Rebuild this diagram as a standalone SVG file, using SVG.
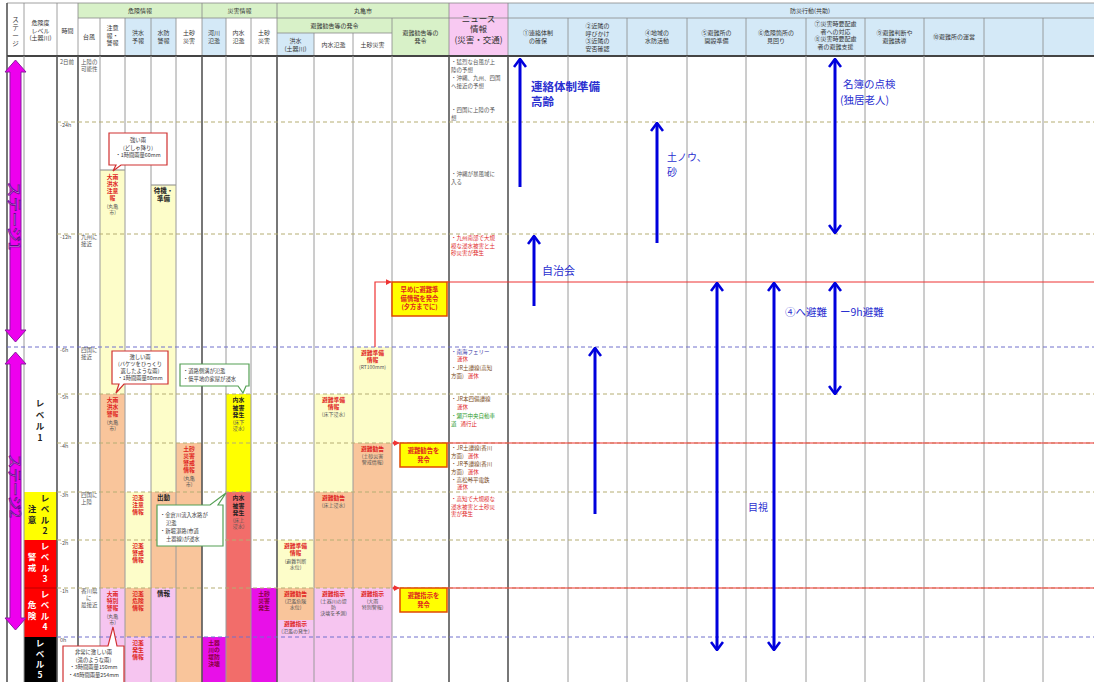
<svg xmlns="http://www.w3.org/2000/svg" width="1094" height="682" viewBox="0 0 1094 682">
<defs>
<style>
text { font-family: "Noto Sans CJK JP", "Noto Sans CJK SC", sans-serif; }
.h { font-size: 6px; fill: #333; text-anchor: middle; }
.hg { font-size: 6.5px; fill: #333; text-anchor: middle; }
.hn { font-size: 8.5px; fill: #333; text-anchor: middle; }
.t { font-size: 5.5px; fill: #555; }
.r { font-size: 5.8px; fill: #e0261f; font-weight: bold; text-anchor: middle; }
.s { font-size: 5px; fill: #555; text-anchor: middle; }
.k { font-size: 6.5px; fill: #222; font-weight: bold; text-anchor: middle; }
.ki { font-size: 5.9px; fill: #222; font-weight: bold; text-anchor: middle; }
.dk { font-size: 5.8px; fill: #8a0040; font-weight: bold; text-anchor: middle; }
.n { font-size: 5.5px; fill: #7a4a22; }
.nr { font-size: 5.5px; fill: #e0261f; }
.nb { font-size: 5.5px; fill: #3a3aa8; }
.ng { font-size: 5.5px; fill: #2a9a2a; }
.co { font-size: 5.3px; fill: #333; text-anchor: middle; }
.cg { font-size: 5.3px; fill: #333; }
.bx { font-size: 6.3px; fill: #e0261f; font-weight: bold; text-anchor: middle; }
.lv { font-size: 8.5px; font-weight: bold; text-anchor: middle; }
.bl { fill: #2a2fd0; }
.vl { stroke: #9a9a9a; stroke-width: 1; }
.vd { stroke: #555; stroke-width: 1.6; }
.hl { stroke: #888; stroke-width: 0.8; }
.dash { stroke: #b5ad72; stroke-width: 1; stroke-dasharray: 4 3; }
.bdash { stroke: #7070cc; stroke-width: 1; stroke-dasharray: 4 3; }
.red { stroke: #ee3333; stroke-width: 1.2; fill: none; }
.arr { stroke: #0000dd; stroke-width: 3; fill: none; }
.py { fill: #fdfdc9; }
.pe { fill: #f9c59b; }
.pk { fill: #f6c5f0; }
.mg { fill: #e810e8; }
.ye { fill: #ffff00; }
.sa { fill: #f26d6a; }
.gr { fill: #d8f1c8; }
.lb { fill: #d4e9f7; }
.pkh { fill: #f8c9f2; }
.cr { fill: #fff; stroke: #d03030; stroke-width: 1.2; }
.cgn { fill: #fff; stroke: #55a055; stroke-width: 1.2; }
.ybox { fill: #ffff00; stroke: #e04a00; stroke-width: 1.5; }
.stg { fill: #fbb8fb; stroke: #6a0090; stroke-width: 0.8; }
</style>
<marker id="chev" viewBox="0 0 10 14" refX="9" refY="7" markerWidth="10" markerHeight="14" orient="auto-start-reverse" markerUnits="userSpaceOnUse">
<path d="M1,1 L9,7 L1,13" fill="none" stroke="#0000dd" stroke-width="2.6"/>
</marker>
<marker id="redhead" viewBox="0 0 8 8" refX="7" refY="4" markerWidth="6" markerHeight="6" orient="auto" markerUnits="userSpaceOnUse">
<path d="M0,0 L8,4 L0,8 Z" fill="#ee3333"/>
</marker>
</defs>

<rect x="0" y="0" width="1094" height="682" fill="#fff"/>

<!-- header -->
<g id="header">
<rect x="78" y="3" width="124" height="15" class="gr"/>
<rect x="125" y="18" width="51" height="38" class="lb"/>
<rect x="202" y="3" width="75" height="15" class="gr"/>
<rect x="202" y="18" width="24" height="38" class="lb"/>
<rect x="277" y="3" width="172" height="15" class="gr"/>
<rect x="277" y="18" width="115" height="15" class="gr"/>
<rect x="277" y="33" width="37" height="23" class="lb"/>
<rect x="392" y="18" width="57" height="38" class="gr"/>
<rect x="449" y="3" width="59" height="53" class="pkh"/>
<rect x="508" y="3" width="586" height="53" class="lb"/>
<g class="hl">
<line x1="7" y1="3" x2="1094" y2="3"/>
<line x1="78" y1="18" x2="1094" y2="18"/>
<line x1="277" y1="33" x2="392" y2="33"/>
<line x1="24" y1="3" x2="24" y2="56"/>
<line x1="57" y1="3" x2="57" y2="56"/>
<line x1="78" y1="3" x2="78" y2="56"/>
<line x1="100" y1="18" x2="100" y2="56"/>
<line x1="125" y1="18" x2="125" y2="56"/>
<line x1="151" y1="18" x2="151" y2="56"/>
<line x1="176" y1="18" x2="176" y2="56"/>
<line x1="202" y1="3" x2="202" y2="56"/>
<line x1="226" y1="18" x2="226" y2="56"/>
<line x1="251" y1="18" x2="251" y2="56"/>
<line x1="277" y1="3" x2="277" y2="56"/>
<line x1="314" y1="33" x2="314" y2="56"/>
<line x1="353" y1="33" x2="353" y2="56"/>
<line x1="392" y1="18" x2="392" y2="56"/>
<line x1="449" y1="3" x2="449" y2="56"/>
<line x1="508" y1="3" x2="508" y2="56"/>
<line x1="568" y1="18" x2="568" y2="56"/>
<line x1="627" y1="18" x2="627" y2="56"/>
<line x1="687" y1="18" x2="687" y2="56"/>
<line x1="746" y1="18" x2="746" y2="56"/>
<line x1="806" y1="18" x2="806" y2="56"/>
<line x1="865" y1="18" x2="865" y2="56"/>
<line x1="924" y1="18" x2="924" y2="56"/>
<line x1="984" y1="18" x2="984" y2="56"/>
<line x1="1043" y1="18" x2="1043" y2="56"/>
</g>
<line x1="7" y1="3" x2="7" y2="56" class="vd"/>
<line x1="7" y1="56" x2="1094" y2="56" stroke="#444" stroke-width="1.8"/>

<text class="hg" x="15.5" y="22"><tspan x="15.5">ス</tspan><tspan x="15.5" dy="8">テ</tspan><tspan x="15.5" dy="8">ー</tspan><tspan x="15.5" dy="8">ジ</tspan></text>
<text class="h" x="40.5" y="25"><tspan x="40.5">危険度</tspan><tspan x="40.5" dy="7.5">レベル</tspan><tspan x="40.5" dy="7.5">(土器川)</tspan></text>
<text class="h" x="67.5" y="33">時間</text>
<text class="h" x="140" y="13">危険情報</text>
<text class="h" x="89" y="39">台風</text>
<text class="h" x="112.5" y="30"><tspan x="112.5">注意</tspan><tspan x="112.5" dy="7.5">報・</tspan><tspan x="112.5" dy="7.5">警報</tspan></text>
<text class="h" x="138" y="35"><tspan x="138">洪水</tspan><tspan x="138" dy="7.5">予報</tspan></text>
<text class="h" x="163.5" y="35"><tspan x="163.5">水防</tspan><tspan x="163.5" dy="7.5">警報</tspan></text>
<text class="h" x="189" y="35"><tspan x="189">土砂</tspan><tspan x="189" dy="7.5">災害</tspan></text>
<text class="h" x="239.5" y="13">災害情報</text>
<text class="h" x="214" y="35"><tspan x="214">河川</tspan><tspan x="214" dy="7.5">氾濫</tspan></text>
<text class="h" x="238.5" y="35"><tspan x="238.5">内水</tspan><tspan x="238.5" dy="7.5">氾濫</tspan></text>
<text class="h" x="264" y="35"><tspan x="264">土砂</tspan><tspan x="264" dy="7.5">災害</tspan></text>
<text class="h" x="363" y="13">丸亀市</text>
<text class="h" x="334.5" y="28">避難勧告等の発令</text>
<text class="h" x="295.5" y="43"><tspan x="295.5">洪水</tspan><tspan x="295.5" dy="7.5">(土器川)</tspan></text>
<text class="h" x="333.5" y="47">内水氾濫</text>
<text class="h" x="372.5" y="47">土砂災害</text>
<text class="h" x="420.5" y="35"><tspan x="420.5">避難勧告等の</tspan><tspan x="420.5" dy="7.5">発令</tspan></text>
<text class="hn" x="478.5" y="22"><tspan x="478.5">ニュース</tspan><tspan x="478.5" dy="10">情報</tspan><tspan x="478.5" dy="10.5">(災害・交通)</tspan></text>
<text class="h" x="810" y="13">防災行動(共助)</text>
<text class="h" x="538" y="35"><tspan x="538">①連絡体制</tspan><tspan x="538" dy="7.5">の確保</tspan></text>
<text class="h" x="597.5" y="28"><tspan x="597.5">②近隣の</tspan><tspan x="597.5" dy="7.5">呼びかけ</tspan><tspan x="597.5" dy="7.5">③近隣の</tspan><tspan x="597.5" dy="7.5">安否確認</tspan></text>
<text class="h" x="657" y="35"><tspan x="657">④地域の</tspan><tspan x="657" dy="7.5">水防活動</tspan></text>
<text class="h" x="716.5" y="35"><tspan x="716.5">⑤避難所の</tspan><tspan x="716.5" dy="7.5">開設準備</tspan></text>
<text class="h" x="776" y="35"><tspan x="776">⑥危険箇所の</tspan><tspan x="776" dy="7.5">見回り</tspan></text>
<text class="h" x="835.5" y="26"><tspan x="835.5">⑦災害時要配慮</tspan><tspan x="835.5" dy="7.5">者への対応</tspan><tspan x="835.5" dy="7.5">⑧災害時要配慮</tspan><tspan x="835.5" dy="7.5">者の避難支援</tspan></text>
<text class="h" x="894.5" y="35"><tspan x="894.5">⑨避難判断や</tspan><tspan x="894.5" dy="7.5">避難誘導</tspan></text>
<text class="h" x="954" y="39">⑩避難所の運営</text>
</g>

<!-- colour bands in the body -->
<g id="bands">
<rect x="100" y="170" width="25" height="224" class="py"/>
<rect x="100" y="394" width="25" height="194" class="pe"/>
<rect x="100" y="588" width="25" height="94" class="pk"/>
<rect x="125" y="492" width="26" height="96" class="py"/>
<rect x="125" y="588" width="26" height="49" class="pe"/>
<rect x="125" y="637" width="26" height="45" class="pk"/>
<rect x="151" y="185" width="25" height="307" class="py"/>
<rect x="151" y="492" width="25" height="96" class="pe"/>
<rect x="151" y="588" width="25" height="94" class="pk"/>
<rect x="176" y="443" width="26" height="239" class="pe"/>
<rect x="202" y="637" width="24" height="45" class="mg"/>
<rect x="226" y="394" width="25" height="98" class="ye"/>
<rect x="226" y="492" width="25" height="190" class="sa"/>
<rect x="251" y="588" width="26" height="94" class="mg"/>
<rect x="277" y="540" width="37" height="48" class="py"/>
<rect x="277" y="588" width="37" height="32" class="pe"/>
<rect x="277" y="620" width="37" height="62" class="pk"/>
<rect x="314" y="394" width="39" height="98" class="py"/>
<rect x="314" y="492" width="39" height="96" class="pe"/>
<rect x="314" y="588" width="39" height="94" class="pk"/>
<rect x="353" y="347" width="39" height="96" class="py"/>
<rect x="353" y="443" width="39" height="145" class="pe"/>
<rect x="353" y="588" width="39" height="94" class="pk"/>
<line x1="100" y1="170" x2="125" y2="170" stroke="#888" stroke-width="1"/>
<line x1="151" y1="185" x2="176" y2="185" stroke="#888" stroke-width="1"/>
<!-- danger level cells -->
<rect x="24" y="492" width="33" height="48" fill="#ffff00"/>
<rect x="24" y="540" width="33" height="97" fill="#ff0000"/>
<rect x="24" y="637" width="33" height="45" fill="#000"/>
<line x1="24" y1="588" x2="57" y2="588" stroke="#b00" stroke-width="1"/>
</g>

<!-- grid -->
<g id="grid">
<line x1="24" y1="56" x2="24" y2="682" class="vl"/>
<line x1="100" y1="56" x2="100" y2="682" class="vl"/>
<line x1="125" y1="56" x2="125" y2="682" class="vl"/>
<line x1="151" y1="56" x2="151" y2="682" class="vl"/>
<line x1="176" y1="56" x2="176" y2="682" class="vl"/>
<line x1="226" y1="56" x2="226" y2="682" class="vl"/>
<line x1="251" y1="56" x2="251" y2="682" class="vl"/>
<line x1="314" y1="56" x2="314" y2="682" class="vl"/>
<line x1="353" y1="56" x2="353" y2="682" class="vl"/>
<line x1="392" y1="56" x2="392" y2="682" class="vl"/>
<line x1="568" y1="56" x2="568" y2="682" class="vl"/>
<line x1="627" y1="56" x2="627" y2="682" class="vl"/>
<line x1="687" y1="56" x2="687" y2="682" class="vl"/>
<line x1="746" y1="56" x2="746" y2="682" class="vl"/>
<line x1="806" y1="56" x2="806" y2="682" class="vl"/>
<line x1="865" y1="56" x2="865" y2="682" class="vl"/>
<line x1="924" y1="56" x2="924" y2="682" class="vl"/>
<line x1="984" y1="56" x2="984" y2="682" class="vl"/>
<line x1="1043" y1="56" x2="1043" y2="682" class="vl"/>
<line x1="7" y1="56" x2="7" y2="682" class="vd"/>
<line x1="57" y1="56" x2="57" y2="682" class="vd"/>
<line x1="78" y1="56" x2="78" y2="682" class="vd"/>
<line x1="202" y1="56" x2="202" y2="682" class="vd"/>
<line x1="277" y1="56" x2="277" y2="682" class="vd"/>
<line x1="449" y1="56" x2="449" y2="682" class="vd"/>
<line x1="508" y1="56" x2="508" y2="682" class="vd"/>
<line x1="57" y1="122" x2="1094" y2="122" class="dash"/>
<line x1="57" y1="234" x2="1094" y2="234" class="dash"/>
<line x1="57" y1="394" x2="1094" y2="394" class="dash"/>
<line x1="57" y1="443" x2="1094" y2="443" class="dash"/>
<line x1="57" y1="492" x2="1094" y2="492" class="dash"/>
<line x1="57" y1="540" x2="1094" y2="540" class="dash"/>
<line x1="57" y1="588" x2="1094" y2="588" class="dash"/>
<line x1="7" y1="347" x2="1094" y2="347" class="bdash"/>
<line x1="57" y1="637" x2="1094" y2="637" class="bdash"/>
</g>

<!-- stage arrows -->
<g id="stage1">
<polygon points="15.5,60 26,72 21,72 21,330 26,330 15.5,342 5,330 10,330 10,72 5,72" fill="#ee00ee" stroke="#8a1aa0" stroke-width="1"/>
<text class="stg" transform="translate(15.5,216) rotate(90)" text-anchor="middle" dominant-baseline="central" font-size="15">ステージ1</text>
</g>
<g id="stage2">
<polygon points="15.5,352 26,364 21,364 21,618 26,618 15.5,630 5,618 10,618 10,364 5,364" fill="#ee00ee" stroke="#8a1aa0" stroke-width="1"/>
<text class="stg" transform="translate(15.5,486) rotate(90)" text-anchor="middle" dominant-baseline="central" font-size="14">ステージ2</text>
</g>

<!-- danger levels -->
<g id="levels">
<text class="lv" font-size="10" fill="#222" x="40" y="406"><tspan x="40">レ</tspan><tspan x="40" dy="11.5">ベ</tspan><tspan x="40" dy="11.5">ル</tspan><tspan x="40" dy="11.5">1</tspan></text>
<text class="lv" fill="#222" x="45" y="501"><tspan x="45">レ</tspan><tspan x="45" dy="11">ベ</tspan><tspan x="45" dy="11">ル</tspan><tspan x="45" dy="11">2</tspan></text>
<text class="lv" fill="#222" x="32" y="512"><tspan x="32">注</tspan><tspan x="32" dy="11">意</tspan></text>
<text class="lv" fill="#fff" x="45" y="549"><tspan x="45">レ</tspan><tspan x="45" dy="11">ベ</tspan><tspan x="45" dy="11">ル</tspan><tspan x="45" dy="11">3</tspan></text>
<text class="lv" fill="#fff" x="32" y="560"><tspan x="32">警</tspan><tspan x="32" dy="11">戒</tspan></text>
<text class="lv" fill="#fff" x="45" y="597"><tspan x="45">レ</tspan><tspan x="45" dy="11">ベ</tspan><tspan x="45" dy="11">ル</tspan><tspan x="45" dy="11">4</tspan></text>
<text class="lv" fill="#fff" x="32" y="608"><tspan x="32">危</tspan><tspan x="32" dy="11">険</tspan></text>
<text class="lv" fill="#fff" x="40" y="646"><tspan x="40">レ</tspan><tspan x="40" dy="10.5">ベ</tspan><tspan x="40" dy="10.5">ル</tspan><tspan x="40" dy="10.5">5</tspan></text>
</g>

<!-- time axis and typhoon -->
<g id="time">
<text class="t" x="60" y="64">2日前</text>
<text class="t" x="60" y="127">-24h</text>
<text class="t" x="60" y="239">-12h</text>
<text class="t" x="60" y="352">-6h</text>
<text class="t" x="60" y="399">-5h</text>
<text class="t" x="60" y="448">-4h</text>
<text class="t" x="60" y="497">-3h</text>
<text class="t" x="60" y="545">-2h</text>
<text class="t" x="60" y="593">-1h</text>
<text class="t" x="60" y="642">0h</text>
</g>
<g id="typhoon">
<text class="t" x="81" y="64"><tspan x="81">上陸の</tspan><tspan x="81" dy="7">可能性</tspan></text>
<text class="t" x="81" y="239"><tspan x="81">九州に</tspan><tspan x="81" dy="7">接近</tspan></text>
<text class="t" x="81" y="352"><tspan x="81">四国に</tspan><tspan x="81" dy="7">接近</tspan></text>
<text class="t" x="81" y="497"><tspan x="81">四国に</tspan><tspan x="81" dy="7">上陸</tspan></text>
<text class="t" x="81" y="593"><tspan x="81">香川県</tspan><tspan x="86" dy="7">に</tspan><tspan x="81" dy="7">最接近</tspan></text>
</g>

<!-- warnings -->
<g id="warnings">
<text class="r" x="112.5" y="179"><tspan x="112.5">大雨</tspan><tspan x="112.5" dy="7">洪水</tspan><tspan x="112.5" dy="7">注意</tspan><tspan x="112.5" dy="7">報</tspan></text>
<text class="s" x="112.5" y="208"><tspan x="112.5">(丸亀</tspan><tspan x="112.5" dy="6">市)</tspan></text>
<text class="r" x="112.5" y="402"><tspan x="112.5">大雨</tspan><tspan x="112.5" dy="7">洪水</tspan><tspan x="112.5" dy="7">警報</tspan></text>
<text class="s" x="112.5" y="424"><tspan x="112.5">(丸亀</tspan><tspan x="112.5" dy="6">市)</tspan></text>
<text class="r" x="112.5" y="596"><tspan x="112.5">大雨</tspan><tspan x="112.5" dy="7">特別</tspan><tspan x="112.5" dy="7">警報</tspan></text>
<text class="s" x="112.5" y="618"><tspan x="112.5">(丸亀</tspan><tspan x="112.5" dy="6">市)</tspan></text>
<text class="r" x="138" y="500"><tspan x="138">氾濫</tspan><tspan x="138" dy="7">注意</tspan><tspan x="138" dy="7">情報</tspan></text>
<text class="r" x="138" y="548"><tspan x="138">氾濫</tspan><tspan x="138" dy="7">警戒</tspan><tspan x="138" dy="7">情報</tspan></text>
<text class="r" x="138" y="596"><tspan x="138">氾濫</tspan><tspan x="138" dy="7">危険</tspan><tspan x="138" dy="7">情報</tspan></text>
<text class="r" x="138" y="645"><tspan x="138">氾濫</tspan><tspan x="138" dy="7">発生</tspan><tspan x="138" dy="7">情報</tspan></text>
<text class="k" x="163.5" y="193"><tspan x="163.5">待機・</tspan><tspan x="163.5" dy="8">準備</tspan></text>
<text class="k" x="163.5" y="500">出動</text>
<text class="k" x="163.5" y="596">情報</text>
<text class="r" x="189" y="451"><tspan x="189">土砂</tspan><tspan x="189" dy="7">災害</tspan><tspan x="189" dy="7">警戒</tspan><tspan x="189" dy="7">情報</tspan></text>
<text class="s" x="189" y="480"><tspan x="189">(丸亀</tspan><tspan x="189" dy="6">市)</tspan></text>
</g>

<!-- disaster information -->
<g id="disasters">
<text class="ki" x="238.5" y="402"><tspan x="238.5">内水</tspan><tspan x="238.5" dy="7.5">被害</tspan><tspan x="238.5" dy="7.5">発生</tspan></text>
<text class="s" x="238.5" y="424" fill="#333"><tspan x="238.5">(床下</tspan><tspan x="238.5" dy="6">浸水)</tspan></text>
<text class="ki" x="238.5" y="500"><tspan x="238.5">内水</tspan><tspan x="238.5" dy="7.5">被害</tspan><tspan x="238.5" dy="7.5">発生</tspan></text>
<text class="s" x="238.5" y="522" fill="#333"><tspan x="238.5">(床上</tspan><tspan x="238.5" dy="6">浸水)</tspan></text>
<text class="dk" x="214" y="645"><tspan x="214">土器</tspan><tspan x="214" dy="7">川の</tspan><tspan x="214" dy="7">堤防</tspan><tspan x="214" dy="7">決壊</tspan></text>
<text class="dk" x="264" y="596"><tspan x="264">土砂</tspan><tspan x="264" dy="7">災害</tspan><tspan x="264" dy="7">発生</tspan></text>
</g>

<!-- evacuation orders -->
<g id="evacuation">
<text class="r" x="295.5" y="548"><tspan x="295.5">避難準備</tspan><tspan x="295.5" dy="7">情報</tspan></text>
<text class="s" x="295.5" y="563"><tspan x="295.5">(避難判断</tspan><tspan x="295.5" dy="6">水位)</tspan></text>
<text class="r" x="295.5" y="596">避難勧告</text>
<text class="s" x="295.5" y="603"><tspan x="295.5">(氾濫危険</tspan><tspan x="295.5" dy="6">水位)</tspan></text>
<text class="r" x="295.5" y="626">避難指示</text>
<text class="s" x="295.5" y="633">(氾濫の発生)</text>
<text class="r" x="333.5" y="402"><tspan x="333.5">避難準備</tspan><tspan x="333.5" dy="7">情報</tspan></text>
<text class="s" x="333.5" y="416">(床下浸水)</text>
<text class="r" x="333.5" y="500">避難勧告</text>
<text class="s" x="333.5" y="507">(床上浸水)</text>
<text class="r" x="333.5" y="596">避難指示</text>
<text class="s" x="333.5" y="603"><tspan x="333.5">(土器川の堤</tspan><tspan x="333.5" dy="6">防</tspan><tspan x="333.5" dy="6">決壊を予測)</tspan></text>
<text class="r" x="372.5" y="355"><tspan x="372.5">避難準備</tspan><tspan x="372.5" dy="7">情報</tspan></text>
<text class="s" x="372.5" y="369">(RT100mm)</text>
<text class="r" x="372.5" y="451">避難勧告</text>
<text class="s" x="372.5" y="458"><tspan x="372.5">(土砂災害</tspan><tspan x="372.5" dy="6">警戒情報)</tspan></text>
<text class="r" x="372.5" y="596">避難指示</text>
<text class="s" x="372.5" y="603"><tspan x="372.5">(大雨</tspan><tspan x="372.5" dy="6">特別警報)</tspan></text>
</g>

<!-- rainfall callouts -->
<g id="rain60">
<path d="M109,133 H167 V165 H121 L113,171 L116,165 H109 Z" class="cr"/>
<text class="co" x="138" y="142"><tspan x="138">強い雨</tspan><tspan x="138" dy="7.5">(どしゃ降り)</tspan><tspan x="138" dy="7.5">・1時間雨量60mm</tspan></text>
</g>
<g id="rain80">
<path d="M112,351 H168 V384 H124 L116,393 L119,384 H112 Z" class="cr"/>
<text class="co" x="140" y="359"><tspan x="140">激しい雨</tspan><tspan x="140" dy="7">(バケツをひっくり</tspan><tspan x="140" dy="7">返したような雨)</tspan><tspan x="140" dy="7">・1時間雨量80mm</tspan></text>
</g>
<g id="rain150">
<path d="M63,646 H108 L113,627 L117,646 H124 V690 H63 Z" class="cr"/>
<text class="co" x="93.5" y="654"><tspan x="93.5">非常に激しい雨</tspan><tspan x="93.5" dy="7.5">(滝のような雨)</tspan><tspan x="93.5" dy="7.5">・3時間雨量150mm</tspan><tspan x="93.5" dy="7.5">・48時間雨量254mm</tspan></text>
</g>
<g id="inundation1">
<path d="M180,364 H249 V386 H246 L243,393 L238,386 H180 Z" class="cgn"/>
<text class="cg" x="183" y="373"><tspan x="183">・道路側溝が氾濫</tspan><tspan x="183" dy="8">・低平地の家屋が浸水</tspan></text>
</g>
<g id="inundation2">
<path d="M157,505 H210 L226,493 L218,505 H223 V546 H157 Z" class="cgn"/>
<text class="cg" x="160" y="517"><tspan x="160">・金倉川流入水路が</tspan><tspan x="166" dy="8">氾濫</tspan><tspan x="160" dy="8">・新堀湛路(市道</tspan><tspan x="166" dy="8">土器線)が浸水</tspan></text>
</g>

<!-- evacuation announcements -->
<g id="announce1">
<rect x="392" y="282" width="55" height="34" class="ybox"/>
<text class="bx" x="419.5" y="292"><tspan x="419.5">早めに避難準</tspan><tspan x="419.5" dy="8.5">備情報を発令</tspan><tspan x="419.5" dy="8.5">(夕方までに)</tspan></text>
</g>
<g id="announce2">
<rect x="400" y="443" width="47" height="24" class="ybox"/>
<text class="bx" x="423.5" y="453"><tspan x="423.5">避難勧告を</tspan><tspan x="423.5" dy="8.5">発令</tspan></text>
</g>
<g id="announce3">
<rect x="400" y="588" width="47" height="24" class="ybox"/>
<text class="bx" x="423.5" y="598"><tspan x="423.5">避難指示を</tspan><tspan x="423.5" dy="8.5">発令</tspan></text>
</g>

<!-- news -->
<g id="news">
<text class="t" fill="#444" x="451" y="64"><tspan x="451">・猛烈な台風が上</tspan><tspan x="451" dy="7.5">陸の予想</tspan><tspan x="451" dy="8.5">・沖縄、九州、四国</tspan><tspan x="451" dy="7.5">へ接近の予想</tspan></text>
<text class="t" fill="#444" x="451" y="112"><tspan x="451">・四国に上陸の予</tspan><tspan x="451" dy="7.5">想</tspan></text>
<text class="t" fill="#444" x="451" y="176"><tspan x="451">・沖縄が暴風域に</tspan><tspan x="451" dy="7.5">入る</tspan></text>
<text class="nr" x="451" y="240"><tspan x="451">・九州南部で大規</tspan><tspan x="451" dy="7.5">模な浸水被害と土</tspan><tspan x="451" dy="7.5">砂災害が発生</tspan></text>
<text class="nb" x="451" y="354">・南海フェリー</text>
<text class="nr" x="457" y="361">運休</text>
<text class="n" x="451" y="370"><tspan x="451">・JR土讃線(高知</tspan><tspan x="451" dy="7.5">方面)</tspan><tspan class="nr" dx="4">運休</tspan></text>
<text class="n" x="451" y="401">・JR本四備讃線</text>
<text class="nr" x="457" y="409">運休</text>
<text class="ng" x="451" y="418"><tspan x="451">・瀬戸中央自動車</tspan><tspan x="451" dy="7.5">道</tspan><tspan class="nr" dx="4">通行止</tspan></text>
<text class="n" x="451" y="450"><tspan x="451">・JR土讃線(香川</tspan><tspan x="451" dy="7.5">方面)</tspan><tspan class="nr" dx="4">運休</tspan></text>
<text class="n" x="451" y="466"><tspan x="451">・JR予讃線(香川</tspan><tspan x="451" dy="7.5">方面)</tspan><tspan class="nr" dx="4">運休</tspan></text>
<text class="n" x="451" y="482">・高松琴平電鉄</text>
<text class="nr" x="457" y="489">運休</text>
<text class="nr" x="451" y="501"><tspan x="451">・高知で大規模な</tspan><tspan x="451" dy="7.5">浸水被害と土砂災</tspan><tspan x="451" dy="7.5">害が発生</tspan></text>
</g>

<!-- connectors -->
<g id="connectors">
<line x1="447" y1="282" x2="1094" y2="282" class="red"/>
<line x1="447" y1="443" x2="1094" y2="443" class="red"/>
<line x1="447" y1="588" x2="1094" y2="588" class="red"/>
<path d="M375,347 V282 H391" class="red" marker-end="url(#redhead)"/>
<path d="M394,443 H399" class="red" marker-end="url(#redhead)"/>
<circle cx="394" cy="443" r="1.5" fill="#ee3333"/>
<path d="M394,588 H399" class="red" marker-end="url(#redhead)"/>
<circle cx="394" cy="588" r="1.5" fill="#ee3333"/>
<line x1="520" y1="187" x2="520" y2="59" class="arr" marker-end="url(#chev)"/>
<line x1="534" y1="306" x2="534" y2="236" class="arr" marker-end="url(#chev)"/>
<line x1="595" y1="514" x2="595" y2="348" class="arr" marker-end="url(#chev)"/>
<line x1="657" y1="243" x2="657" y2="123" class="arr" marker-end="url(#chev)"/>
<line x1="835" y1="59" x2="835" y2="233" class="arr" marker-start="url(#chev)" marker-end="url(#chev)"/>
<line x1="717" y1="283" x2="717" y2="650" class="arr" marker-start="url(#chev)" marker-end="url(#chev)"/>
<line x1="774" y1="283" x2="774" y2="650" class="arr" marker-start="url(#chev)" marker-end="url(#chev)"/>
<line x1="835" y1="283" x2="835" y2="394" class="arr" marker-start="url(#chev)" marker-end="url(#chev)"/>
</g>

<!-- action notes -->
<g id="notes">
<text class="bl" font-size="11.5" font-weight="bold" x="531" y="91">連絡体制準備</text>
<text class="bl" font-size="11.5" font-weight="bold" x="531" y="106">高齢</text>
<text class="bl" font-size="11" x="542" y="275">自治会</text>
<text class="bl" font-size="10" x="667" y="161">土ノウ、</text>
<text class="bl" font-size="10" x="667" y="176">砂</text>
<text class="bl" font-size="10.5" x="843" y="88">名簿の点検</text>
<text class="bl" font-size="10.5" x="840" y="104">(独居老人)</text>
<text class="bl" font-size="10.5" x="785" y="316">④へ避難</text>
<text class="bl" font-size="10.5" x="840" y="316">ー9h避難</text>
<text class="bl" font-size="10" x="748" y="511">目視</text>
</g>
</svg>
